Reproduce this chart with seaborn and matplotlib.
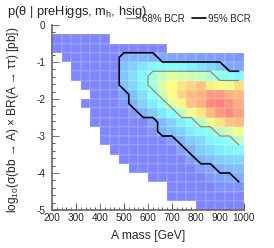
import numpy as np
import pandas as pd
import seaborn as sns
import matplotlib.pyplot as plt
from matplotlib.colors import LinearSegmentedColormap
from matplotlib.lines import Line2D

# Histogram binning: 20 mass bins x 20 cross-section bins
mass_edges = np.arange(200, 1001, 40)
xsec_edges = np.arange(0, -5.01, -0.25)

mass_ticks = [200, 300, 400, 500, 600, 700, 800, 900, 1000]
xsec_ticks = [0, -1, -2, -3, -4, -5]

# Posterior density per bin (rows from log10 = 0 down to -5), 0 = empty bin
density = [
    [0, 0, 0, 0, 0, 0, 0, 0, 0, 0, 0, 0, 0, 0, 0, 0, 0, 0, 0, 0],
    [.2, .2, .2, .2, .2, .2, 0, 0, 0, 0, 0, 0, 0, 0, 0, 0, 0, 0, 0, 0],
    [.2, .2, .2, .2, .2, .2, .2, .2, .2, .2, .2, .2, 0, 0, 0, 0, 0, 0, 0, 0],
    [0, .2, .2, .2, .2, .2, .2, 1.5, 1.7, 1.7, 1.6, 1.3, 1.2, 1.2, 1.1, 1.0, 1.0, 0.9, 0.8, 0.7],
    [0, 0, .2, .2, .2, .2, .2, 2.0, 2.6, 3.2, 3.8, 4.0, 4.2, 4.0, 3.6, 3.2, 2.8, 2.2, 1.3, 1.2],
    [0, 0, .2, .2, .2, .2, .2, 2.2, 3.0, 3.8, 4.8, 5.6, 6.2, 6.0, 5.8, 5.6, 5.0, 4.4, 4.2, 3.8],
    [0, 0, 0, .2, .2, .2, .2, 2.0, 2.8, 3.6, 4.8, 6.2, 7.0, 7.6, 8.0, 8.4, 7.4, 7.0, 6.6, 7.8],
    [0, 0, 0, 0, .2, .2, .2, 1.1, 2.0, 3.0, 4.2, 5.6, 7.0, 8.0, 8.6, 8.8, 9.4, 9.4, 8.8, 8.6],
    [0, 0, 0, .2, .2, .2, .2, .8, 1.6, 2.6, 3.4, 4.4, 6.2, 7.2, 8.4, 8.8, 9.8, 10.0, 9.6, 9.0],
    [0, 0, 0, 0, .2, .2, .2, .2, .8, 1.6, 2.4, 3.2, 4.2, 5.4, 6.6, 7.6, 8.6, 9.4, 9.8, 9.2],
    [0, 0, 0, 0, .2, .2, .2, .2, .2, .2, 1.1, 1.8, 2.6, 3.4, 4.2, 5.4, 6.6, 7.6, 8.4, 8.6],
    [0, 0, 0, 0, 0, .2, .2, .2, .2, .2, .6, 1.6, 2.0, 2.6, 3.4, 3.8, 4.4, 5.4, 6.0, 6.6],
    [0, 0, 0, 0, 0, .2, .2, .2, .2, .2, .2, .2, 1.0, 1.6, 2.4, 2.8, 3.6, 3.9, 4.4, 5.4],
    [0, 0, 0, 0, 0, 0, .2, .2, .2, .2, .2, .2, .2, 1.0, 1.6, 2.4, 2.8, 3.4, 3.6, 3.8],
    [0, 0, 0, 0, 0, 0, 0, .2, .2, .2, .2, .2, .2, .2, 1.0, 1.6, 2.0, 2.4, 2.6, 2.8],
    [0, 0, 0, 0, 0, 0, 0, 0, .2, .2, .2, .2, .2, .2, .2, 1.0, 1.2, 1.6, 1.8, 2.0],
    [0, 0, 0, 0, 0, 0, 0, 0, 0, 0, .2, .2, .2, .2, .2, .2, 0.8, 1.0, 1.2, 1.5],
    [0, 0, 0, 0, 0, 0, 0, 0, 0, 0, 0, 0, .2, .2, .2, .2, .2, .6, .6, .6],
    [0, 0, 0, 0, 0, 0, 0, 0, 0, 0, 0, 0, .2, .2, .2, .2, .2, .2, .2, .2],
    [0, 0, 0, 0, 0, 0, 0, 0, 0, 0, 0, 0, 0, 0, 0, .2, .2, .2, .2, .2],
]

# Density thresholds of the credible regions
bcr_levels = {"68% BCR": 4.6, "95% BCR": 1.4}
bcr_colors = {"68% BCR": "#8a8a8a", "95% BCR": "black"}
bcr_widths = {"68% BCR": 0.9, "95% BCR": 1.2}

sns.set_style("white")
plt.rcParams["font.family"] = ["Liberation Sans", "DejaVu Sans"]

mass_centers = (mass_edges[:-1] + mass_edges[1:]) / 2
xsec_centers = (xsec_edges[:-1] + xsec_edges[1:]) / 2
df = pd.DataFrame(density, index=xsec_centers, columns=mass_centers)

cmap = LinearSegmentedColormap.from_list(
    "root_pastel",
    [(0.0, "#8080ff"), (0.4, "#80ffff"), (0.7, "#ffff80"), (1.0, "#ff8080")]
)

fig = plt.figure(figsize=(2.74, 2.48), dpi=100)
ax = fig.add_axes([52 / 274, 1 - 210 / 248, 192 / 274, 185 / 248])

sns.heatmap(
    df,
    mask=df.eq(0),
    cmap=cmap,
    vmin=0,
    vmax=10,
    cbar=False,
    linewidths=0.2,
    linecolor=(1, 1, 1, 0.1),
    xticklabels=False,
    yticklabels=False,
    ax=ax
)

# Credible region outlines drawn from the bins above each threshold
cell = np.arange(len(mass_centers)) + 0.5
values = df.to_numpy()
for name, level in bcr_levels.items():
    inside = (values >= level).astype(float)
    ax.contour(
        cell, cell, inside,
        levels=[0.5],
        colors=bcr_colors[name],
        linewidths=bcr_widths[name]
    )

# Axes in physical units
bins = np.arange(len(mass_edges))
ax.set_xticks(np.interp(mass_ticks, mass_edges, bins))
ax.set_xticklabels([str(m) for m in mass_ticks])
ax.set_xticks(np.interp(np.arange(200, 1001, 20), mass_edges, bins), minor=True)
ax.set_yticks(np.interp(xsec_ticks, xsec_edges[::-1], bins[::-1]))
ax.set_yticklabels([str(v) for v in xsec_ticks])
ax.set_yticks(np.interp(np.arange(0, -5.01, -0.2), xsec_edges[::-1], bins[::-1]),
              minor=True)

for side in ["left", "bottom"]:
    ax.spines[side].set_visible(True)
    ax.spines[side].set_color("#666666")
    ax.spines[side].set_linewidth(1.2)
for side in ["top", "right"]:
    ax.spines[side].set_visible(False)

ax.tick_params(which="both", direction="in", color="#333333",
               left=True, bottom=True, top=False, right=False, width=0.6)
ax.tick_params(which="major", length=5, labelsize=7.2)
ax.tick_params(which="minor", length=2.5)
ax.tick_params(axis="y", which="major", pad=5, rotation=0)
ax.tick_params(axis="x", which="major", pad=2.5, rotation=0)

ax.set_xlabel("A mass [GeV]", fontsize=8.7, labelpad=5)
ax.set_ylabel("")
fig.text(13 / 274, 1 - 27 / 248,
         "log$_{\\mathregular{10}}$(σ(bb → A) × BR(A → ττ) [pb])",
         rotation=90, ha="center", va="top", fontsize=8.6)

fig.text(7 / 274, 1 - 4 / 248, "p(θ | preHiggs, m$_{\\mathregular{h}}$, hsig)",
         ha="left", va="top", fontsize=9.3)

handles = [Line2D([], [], color=bcr_colors[n], lw=bcr_widths[n]) for n in bcr_levels]
fig.legend(
    handles, list(bcr_levels),
    loc="center right",
    bbox_to_anchor=(0.915, 0.925),
    ncol=2,
    frameon=False,
    fontsize=7,
    handlelength=1.4,
    handletextpad=0.25,
    columnspacing=0.7,
    borderaxespad=0,
    borderpad=0
)

fig.savefig("out.png", dpi=100)
